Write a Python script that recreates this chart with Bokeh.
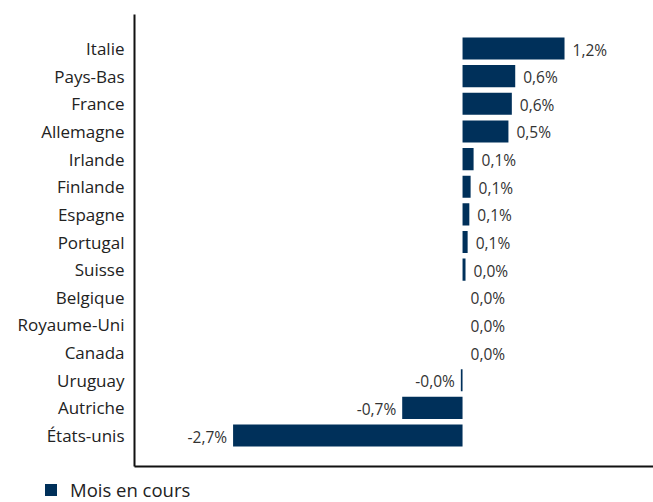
from bokeh.plotting import figure
from bokeh.layouts import column, row
from bokeh.models import Range1d, FixedTicker, Legend, LegendItem, ColumnDataSource
from bokeh.embed import file_html
from bokeh.resources import INLINE
from bokeh.core.properties import value

countries = ["Italie", "Pays-Bas", "France", "Allemagne", "Irlande", "Finlande",
             "Espagne", "Portugal", "Suisse", "Belgique", "Royaume-Uni", "Canada",
             "Uruguay", "Autriche", "États-unis"]
values = [1.2, 0.62, 0.58, 0.54, 0.13, 0.095, 0.08, 0.06, 0.035, 0.0, 0.0, 0.0,
          -0.02, -0.71, -2.7]
series_name = "Mois en cours"

BAR = "#00305a"
FONT = "Open Sans"

idx = list(range(len(countries)))
labels = [("{:.1f}".format(v)).replace(".", ",") + "%" for v in values]

src = ColumnDataSource(dict(y=idx, v=values, lab=labels))
pos = ColumnDataSource(dict(y=[i for i, v in zip(idx, values) if v >= 0],
                            v=[v for v in values if v >= 0],
                            lab=[l for l, v in zip(labels, values) if v >= 0]))
neg = ColumnDataSource(dict(y=[i for i, v in zip(idx, values) if v < 0],
                            v=[v for v in values if v < 0],
                            lab=[l for l, v in zip(labels, values) if v < 0]))

p = figure(width=653, height=470, output_backend="svg", toolbar_location=None,
           x_range=Range1d(-3.86, 2.247), y_range=Range1d(15.12, -1.23),
           min_border_left=134, min_border_top=14, min_border_right=0,
           min_border_bottom=4)

bars = p.hbar(y="y", left=0, right="v", height=0.8, source=src,
              fill_color=BAR, line_color=None)

p.text(x="v", y="y", text="lab", source=pos, x_offset=8, y_offset=1,
       text_align="left", text_baseline="middle", text_font=value(FONT),
       text_font_size="15.5px", text_color="#333333")
p.text(x="v", y="y", text="lab", source=neg, x_offset=-6, y_offset=1,
       text_align="right", text_baseline="middle", text_font=value(FONT),
       text_font_size="15.5px", text_color="#333333")

p.xgrid.visible = False
p.ygrid.visible = False
p.outline_line_color = None

ya = p.yaxis[0]
ya.ticker = FixedTicker(ticks=idx)
ya.major_label_overrides = {i: c for i, c in zip(idx, countries)}
ya.major_tick_line_color = None
ya.minor_tick_line_color = None
ya.major_tick_out = 0
ya.major_tick_in = 0
ya.axis_line_color = "#111111"
ya.axis_line_width = 2
ya.major_label_standoff = 10
ya.major_label_text_font = FONT
ya.major_label_text_font_size = "17px"
ya.major_label_text_color = "#222222"

xa = p.xaxis[0]
xa.ticker = FixedTicker(ticks=[])
xa.major_tick_line_color = None
xa.minor_tick_line_color = None
xa.axis_line_color = "#111111"
xa.axis_line_width = 2
xa.major_tick_out = 0
xa.major_tick_in = 0
xa.major_label_standoff = 0

# legend strip below the chart
leg_src = ColumnDataSource(dict(y=[-10], v=[1]))
p2 = figure(width=653, height=32, output_backend="svg", toolbar_location=None,
            x_range=Range1d(0, 1), y_range=Range1d(0, 1),
            min_border=0, outline_line_color=None)
p2.axis.visible = False
p2.grid.visible = False
leg_bar = p2.hbar(y="y", left=0, right="v", height=0.8, source=leg_src,
                  fill_color=BAR, line_color=None)
legend = Legend(items=[LegendItem(label=series_name, renderers=[leg_bar])],
                location=(43, 0), orientation="horizontal",
                glyph_width=15, glyph_height=15, label_standoff=12,
                label_height=16, padding=0, margin=0,
                label_text_font=FONT, label_text_font_size="18.5px",
                label_text_color="#222222",
                border_line_color=None, background_fill_alpha=0)
p2.add_layout(legend, "center")

layout = column(p, row(p2), spacing=0)
open("out.html", "w").write(file_html(layout, INLINE))
